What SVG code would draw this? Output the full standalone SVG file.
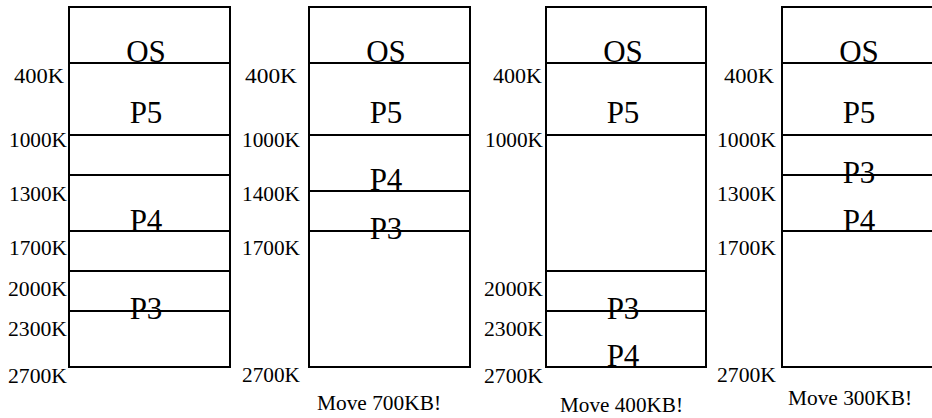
<svg xmlns="http://www.w3.org/2000/svg" width="932" height="418" viewBox="0 0 932 418">
<style>
text{font-family:"Liberation Serif","Times New Roman",serif;fill:#000}
.box{fill:#fff;stroke:#000;stroke-width:2}
.ln{stroke:#000;stroke-width:2}
.p{font-size:31px;text-anchor:middle}
.k{font-size:20px;text-anchor:end}
.mv{font-size:20px}
</style>
<rect width="932" height="418" fill="#fff"/>
<g id="mem1">
<rect class="box" x="69" y="7" width="161" height="360"/>
<line class="ln" x1="69" y1="63" x2="230" y2="63"/>
<line class="ln" x1="69" y1="135" x2="230" y2="135"/>
<line class="ln" x1="69" y1="175" x2="230" y2="175"/>
<line class="ln" x1="69" y1="231" x2="230" y2="231"/>
<line class="ln" x1="69" y1="271" x2="230" y2="271"/>
<line class="ln" x1="69" y1="311" x2="230" y2="311"/>
<text class="p" x="146" y="62">OS</text>
<text class="p" x="146" y="123">P5</text>
<text class="p" x="146" y="231">P4</text>
<text class="p" x="146" y="319">P3</text>
<text class="k" x="64" y="83" textLength="50" lengthAdjust="spacingAndGlyphs">400K</text>
<text class="k" x="67" y="147" textLength="58" lengthAdjust="spacingAndGlyphs">1000K</text>
<text class="k" x="67" y="201" textLength="58" lengthAdjust="spacingAndGlyphs">1300K</text>
<text class="k" x="67" y="255" textLength="58" lengthAdjust="spacingAndGlyphs">1700K</text>
<text class="k" x="67" y="296" textLength="59" lengthAdjust="spacingAndGlyphs">2000K</text>
<text class="k" x="67" y="336" textLength="59" lengthAdjust="spacingAndGlyphs">2300K</text>
<text class="k" x="67" y="383" textLength="59" lengthAdjust="spacingAndGlyphs">2700K</text>
</g>
<g id="mem2">
<rect class="box" x="309" y="7" width="161" height="360"/>
<line class="ln" x1="309" y1="63" x2="470" y2="63"/>
<line class="ln" x1="309" y1="135" x2="470" y2="135"/>
<line class="ln" x1="309" y1="191" x2="470" y2="191"/>
<line class="ln" x1="309" y1="231" x2="470" y2="231"/>
<text class="p" x="386" y="62">OS</text>
<text class="p" x="386" y="123">P5</text>
<text class="p" x="386" y="190">P4</text>
<text class="p" x="386" y="239">P3</text>
<text class="k" x="297" y="83" textLength="52" lengthAdjust="spacingAndGlyphs">400K</text>
<text class="k" x="300" y="147" textLength="58" lengthAdjust="spacingAndGlyphs">1000K</text>
<text class="k" x="300" y="201" textLength="58" lengthAdjust="spacingAndGlyphs">1400K</text>
<text class="k" x="300" y="255" textLength="58" lengthAdjust="spacingAndGlyphs">1700K</text>
<text class="k" x="300" y="382" textLength="58" lengthAdjust="spacingAndGlyphs">2700K</text>
<text class="mv" x="317" y="410" textLength="124" lengthAdjust="spacingAndGlyphs">Move 700KB!</text>
</g>
<g id="mem3">
<rect class="box" x="546" y="7" width="160" height="360"/>
<line class="ln" x1="546" y1="63" x2="706" y2="63"/>
<line class="ln" x1="546" y1="135" x2="706" y2="135"/>
<line class="ln" x1="546" y1="271" x2="706" y2="271"/>
<line class="ln" x1="546" y1="311" x2="706" y2="311"/>
<text class="p" x="623" y="62">OS</text>
<text class="p" x="623" y="123">P5</text>
<text class="p" x="623" y="319">P3</text>
<text class="p" x="623" y="366">P4</text>
<text class="k" x="542" y="83" textLength="49" lengthAdjust="spacingAndGlyphs">400K</text>
<text class="k" x="543" y="147" textLength="58" lengthAdjust="spacingAndGlyphs">1000K</text>
<text class="k" x="543" y="296" textLength="59" lengthAdjust="spacingAndGlyphs">2000K</text>
<text class="k" x="543" y="336" textLength="59" lengthAdjust="spacingAndGlyphs">2300K</text>
<text class="k" x="543" y="383" textLength="59" lengthAdjust="spacingAndGlyphs">2700K</text>
<text class="mv" x="560" y="412" textLength="123" lengthAdjust="spacingAndGlyphs">Move 400KB!</text>
</g>
<g id="mem4">
<rect class="box" x="782" y="7" width="161" height="360"/>
<line class="ln" x1="782" y1="63" x2="943" y2="63"/>
<line class="ln" x1="782" y1="135" x2="943" y2="135"/>
<line class="ln" x1="782" y1="175" x2="943" y2="175"/>
<line class="ln" x1="782" y1="231" x2="943" y2="231"/>
<text class="p" x="859" y="62">OS</text>
<text class="p" x="859" y="123">P5</text>
<text class="p" x="859" y="183">P3</text>
<text class="p" x="859" y="231">P4</text>
<text class="k" x="774" y="83" textLength="50" lengthAdjust="spacingAndGlyphs">400K</text>
<text class="k" x="776" y="147" textLength="59" lengthAdjust="spacingAndGlyphs">1000K</text>
<text class="k" x="776" y="201" textLength="59" lengthAdjust="spacingAndGlyphs">1300K</text>
<text class="k" x="776" y="255" textLength="59" lengthAdjust="spacingAndGlyphs">1700K</text>
<text class="k" x="776" y="382" textLength="59" lengthAdjust="spacingAndGlyphs">2700K</text>
<text class="mv" x="788" y="405" textLength="124" lengthAdjust="spacingAndGlyphs">Move 300KB!</text>
</g>
</svg>
